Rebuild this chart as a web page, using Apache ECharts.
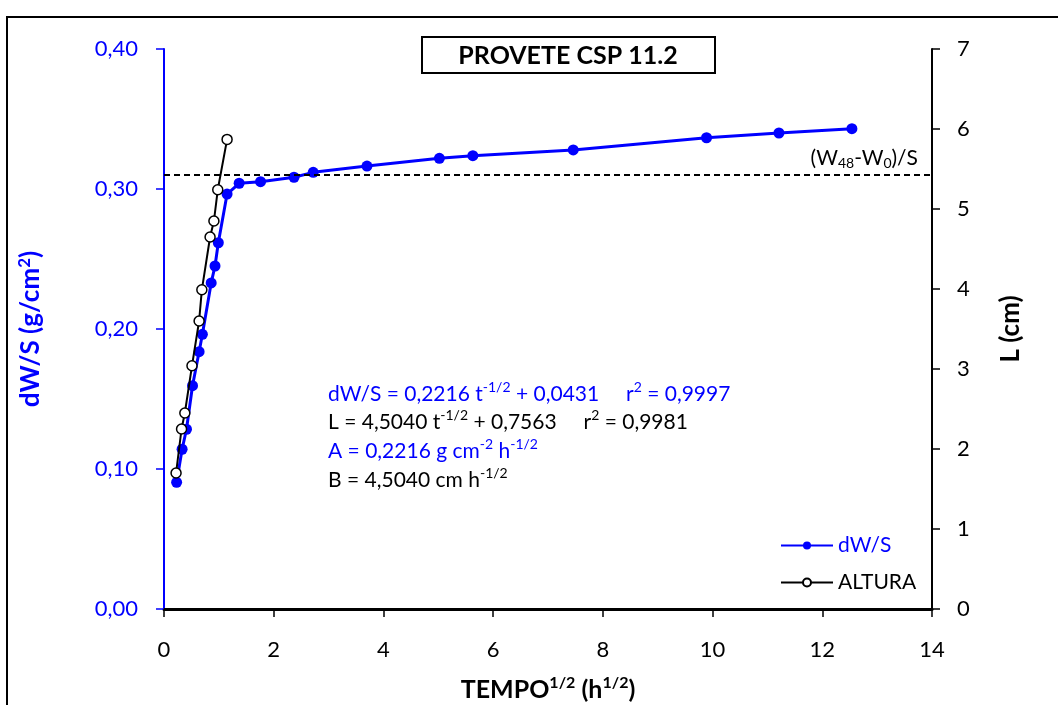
<!DOCTYPE html>
<html>
<head>
<meta charset="utf-8">
<script src="https://cdn.jsdelivr.net/npm/echarts@6/dist/echarts.min.js"></script>
<style>
html,body{margin:0;padding:0;background:#fff;}
#c{width:1058px;height:705px;}
</style>
</head>
<body>
<div id="c"></div>
<script>
// Data
const dwX = [0.23, 0.33, 0.41, 0.52, 0.64, 0.70, 0.86, 0.93, 0.99, 1.15, 1.37, 1.76, 2.37, 2.72, 3.70, 5.02, 5.63, 7.46, 9.89, 11.21, 12.54];
const dwY = [0.0905, 0.1141, 0.1284, 0.1595, 0.1838, 0.1962, 0.2329, 0.2450, 0.2616, 0.2964, 0.3041, 0.3052, 0.3084, 0.3119, 0.3164, 0.3219, 0.3238, 0.3279, 0.3366, 0.3400, 0.3431];
const altX = [0.22, 0.32, 0.38, 0.51, 0.64, 0.69, 0.84, 0.91, 0.98, 1.15];
const altY = [1.70, 2.25, 2.45, 3.04, 3.60, 3.99, 4.65, 4.85, 5.24, 5.87];
const saturation = 0.3079;
const xTicks = [0, 2, 4, 6, 8, 10, 12, 14];
const seriesNames = ['dW/S', 'ALTURA'];
const titleText = 'PROVETE CSP 11.2';

const FONT = 'Lato';
const BLUE = '#0000ff';

const chart = echarts.init(document.getElementById('c'));
const sup = (c, fs) => ({fontFamily: FONT, fontSize: fs, color: c, fill: c, verticalAlign: 'top', lineHeight: 14});
const sub = (c, fs) => ({fontFamily: FONT, fontSize: fs, color: c, verticalAlign: 'bottom', lineHeight: 11});

chart.setOption({
  animation: false,
  backgroundColor: '#fff',
  grid: {left: 164, right: 126, top: 49, bottom: 96, containLabel: false, outerBoundsMode: 'none'},
  legend: {
    orient: 'vertical', left: 775, top: 530, itemWidth: 52, itemHeight: 10, itemGap: 16,
    textStyle: {fontFamily: FONT, fontSize: 21, color: '#000'},
    data: [
      {name: seriesNames[0], textStyle: {color: BLUE}},
      {name: seriesNames[1], textStyle: {color: '#000'}}
    ]
  },
  xAxis: {
    type: 'value', min: 0, max: 14, interval: 2,
    axisLine: {show: true, lineStyle: {color: '#000', width: 3}},
    axisTick: {show: true, length: 8, lineStyle: {color: '#000', width: 1.5}},
    splitLine: {show: false},
    axisLabel: {fontFamily: FONT, fontSize: 22, color: '#000', margin: 30,
      customValues: xTicks},
    name: '{b|TEMPO}{s|1/2}{b| (h}{s|1/2}{b|)}',
    nameLocation: 'middle', nameGap: 66,
    nameTextStyle: {rich: {
      b: {fontFamily: FONT, fontSize: 25, fontWeight: 'bold', color: '#000', lineHeight: 30},
      s: Object.assign(sup('#000', 16), {fontWeight: 'bold', lineHeight: 17})
    }}
  },
  yAxis: [{
    type: 'value', min: 0, max: 0.4, interval: 0.1, position: 'left',
    axisLine: {show: true, lineStyle: {color: BLUE, width: 2}},
    axisTick: {show: true, length: 8, lineStyle: {color: BLUE, width: 1.5}},
    splitLine: {show: false},
    axisLabel: {fontFamily: FONT, fontSize: 22, color: BLUE, margin: 26,
      formatter: v => v.toFixed(2).replace('.', ',')},
    name: '{b|dW/S (g/cm}{s|2}{b|)}',
    nameLocation: 'middle', nameRotate: 90, nameGap: 118,
    nameTextStyle: {rich: {
      b: {fontFamily: FONT, fontSize: 26, fontWeight: 'bold', color: BLUE, lineHeight: 30},
      s: Object.assign(sup(BLUE, 17), {fontWeight: 'bold', lineHeight: 17})
    }}
  }, {
    type: 'value', min: 0, max: 7, interval: 1, position: 'right',
    axisLine: {show: true, lineStyle: {color: '#000', width: 2}},
    axisTick: {show: true, length: 8, lineStyle: {color: '#000', width: 1.5}},
    splitLine: {show: false},
    axisLabel: {fontFamily: FONT, fontSize: 22, color: '#000', margin: 25},
    name: 'L (cm)', nameLocation: 'middle', nameRotate: 90, nameGap: 66,
    nameTextStyle: {fontFamily: FONT, fontSize: 26, fontWeight: 'bold', color: '#000'}
  }],
  series: [{
    name: seriesNames[0], type: 'line', yAxisIndex: 0,
    data: dwX.map((x, i) => [x, dwY[i]]),
    symbol: 'circle', symbolSize: 11,
    itemStyle: {color: BLUE},
    lineStyle: {color: BLUE, width: 3},
    z: 2,
    markLine: {
      silent: true, symbol: 'none',
      lineStyle: {color: '#000', type: [6, 4], width: 2},
      label: {
        show: true, position: 'insideEndTop', distance: [14, 5],
        formatter: '{n|(W}{s|48}{n|-W}{s|0}{n|)/S}',
        rich: {
          n: {fontFamily: FONT, fontSize: 21, color: '#000', lineHeight: 24},
          s: sub('#000', 14)
        }
      },
      data: [{yAxis: saturation}]
    }
  }, {
    name: seriesNames[1], type: 'line', yAxisIndex: 1,
    data: altX.map((x, i) => [x, altY[i]]),
    symbol: 'circle', symbolSize: 10,
    itemStyle: {color: '#fff', borderColor: '#000', borderWidth: 1.5},
    lineStyle: {color: '#000', width: 2},
    z: 3
  }],
  graphic: [
    {type: 'rect', shape: {x: 7, y: 17, width: 1200, height: 900},
      style: {fill: 'none', stroke: '#000', lineWidth: 2}, silent: true},
    {type: 'rect', shape: {x: 422, y: 37, width: 293, height: 36},
      style: {fill: '#fff', stroke: '#000', lineWidth: 2}},
    {type: 'text', x: 568, y: 56, style: {text: titleText, fontFamily: FONT, fontSize: 25,
      fontWeight: 'bold', fill: '#000', align: 'center', verticalAlign: 'middle'}},
    {type: 'text', x: 328, y: 380, style: {
      text: '{b|dW/S = 0,2216 t}{s|-1/2}{b| + 0,0431     r}{s|2}{b| = 0,9997}',
      rich: {b: {fontFamily: FONT, fontSize: 21, fill: BLUE, lineHeight: 28}, s: sup(BLUE, 14)}}},
    {type: 'text', x: 328, y: 408, style: {
      text: '{b|L = 4,5040 t}{s|-1/2}{b| + 0,7563     r}{s|2}{b| = 0,9981}',
      rich: {b: {fontFamily: FONT, fontSize: 21, fill: '#000', lineHeight: 28}, s: sup('#000', 14)}}},
    {type: 'text', x: 328, y: 437, style: {
      text: '{b|A = 0,2216 g cm}{s|-2}{b| h}{s|-1/2}',
      rich: {b: {fontFamily: FONT, fontSize: 21, fill: BLUE, lineHeight: 28}, s: sup(BLUE, 14)}}},
    {type: 'text', x: 328, y: 466, style: {
      text: '{b|B = 4,5040 cm h}{s|-1/2}',
      rich: {b: {fontFamily: FONT, fontSize: 21, fill: '#000', lineHeight: 28}, s: sup('#000', 14)}}}
  ]
});
</script>
</body>
</html>
